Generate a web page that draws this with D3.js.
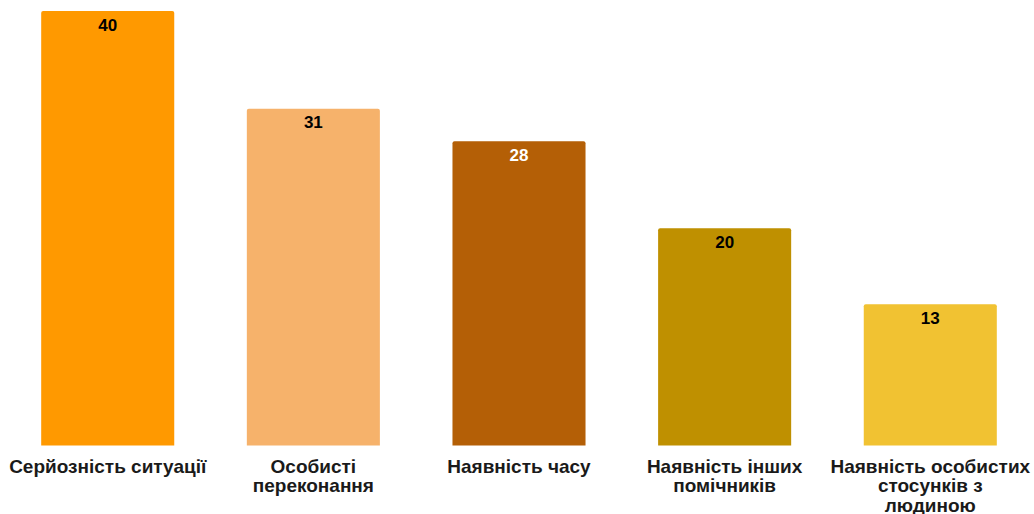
<!DOCTYPE html>
<html>
<head>
<meta charset="utf-8">
<script src="https://cdn.jsdelivr.net/npm/d3@7"></script>
<style>
  body { margin: 0; background: #fff; }
  text { font-family: "Liberation Sans", Arial, sans-serif; }
</style>
</head>
<body>
<div id="chart"></div>
<script>
const categories = ["Серйозність ситуації", "Особисті переконання", "Наявність часу", "Наявність інших помічників", "Наявність особистих стосунків з людиною"];
const label_lines = [
    ["Серйозність ситуації"],
    ["Особисті", "переконання"],
    ["Наявність часу"],
    ["Наявність інших", "помічників"],
    ["Наявність особистих", "стосунків з", "людиною"]
];
const values = [40, 31, 28, 20, 13];
const colors = ["#ff9900", "#f6b26b", "#b45f06", "#bf9000", "#f1c232"];
const label_colors = ["#000", "#000", "#fff", "#000", "#000"];

const width = 1034, height = 514;
const margin = { top: 11, right: 1, bottom: 69, left: 5 };

const svg = d3.select("#chart").append("svg")
    .attr("width", width)
    .attr("height", height);

const x = d3.scaleBand()
    .domain(categories)
    .range([margin.left, width - margin.right])
    .paddingInner(0.353)
    .paddingOuter(0.176);

const y = d3.scaleLinear()
    .domain([0, 40])
    .range([height - margin.bottom + 0.5, margin.top]);

const data = categories.map((c, i) => ({ cat: c, value: values[i], color: colors[i], lc: label_colors[i], lines: label_lines[i] }));

svg.append("g")
    .selectAll("path")
    .data(data)
    .enter().append("path")
    .attr("fill", d => d.color)
    .attr("d", d => {
        const x0 = x(d.cat), x1 = x0 + x.bandwidth();
        const y0 = y(d.value), y1 = y(0);
        const r = 2;
        return `M${x0},${y1}V${y0 + r}Q${x0},${y0} ${x0 + r},${y0}H${x1 - r}Q${x1},${y0} ${x1},${y0 + r}V${y1}Z`;
    });

svg.append("g")
    .selectAll("text")
    .data(data)
    .enter().append("text")
    .attr("x", d => x(d.cat) + x.bandwidth() / 2)
    .attr("y", d => y(d.value) + 19.5)
    .attr("text-anchor", "middle")
    .style("font-size", "17px")
    .style("font-weight", "bold")
    .style("fill", d => d.lc)
    .text(d => d.value);

const labels = svg.append("g")
    .selectAll("text")
    .data(data)
    .enter().append("text")
    .attr("text-anchor", "middle")
    .style("font-size", "19px")
    .style("font-weight", "bold")
    .style("fill", "#1a1a1a");

labels.selectAll("tspan")
    .data(d => d.lines.map(l => ({ cat: d.cat, line: l })))
    .enter().append("tspan")
    .attr("x", d => x(d.cat) + x.bandwidth() / 2)
    .attr("y", (d, i) => 472.5 + i * 19.5)
    .text(d => d.line);
</script>
</body>
</html>
